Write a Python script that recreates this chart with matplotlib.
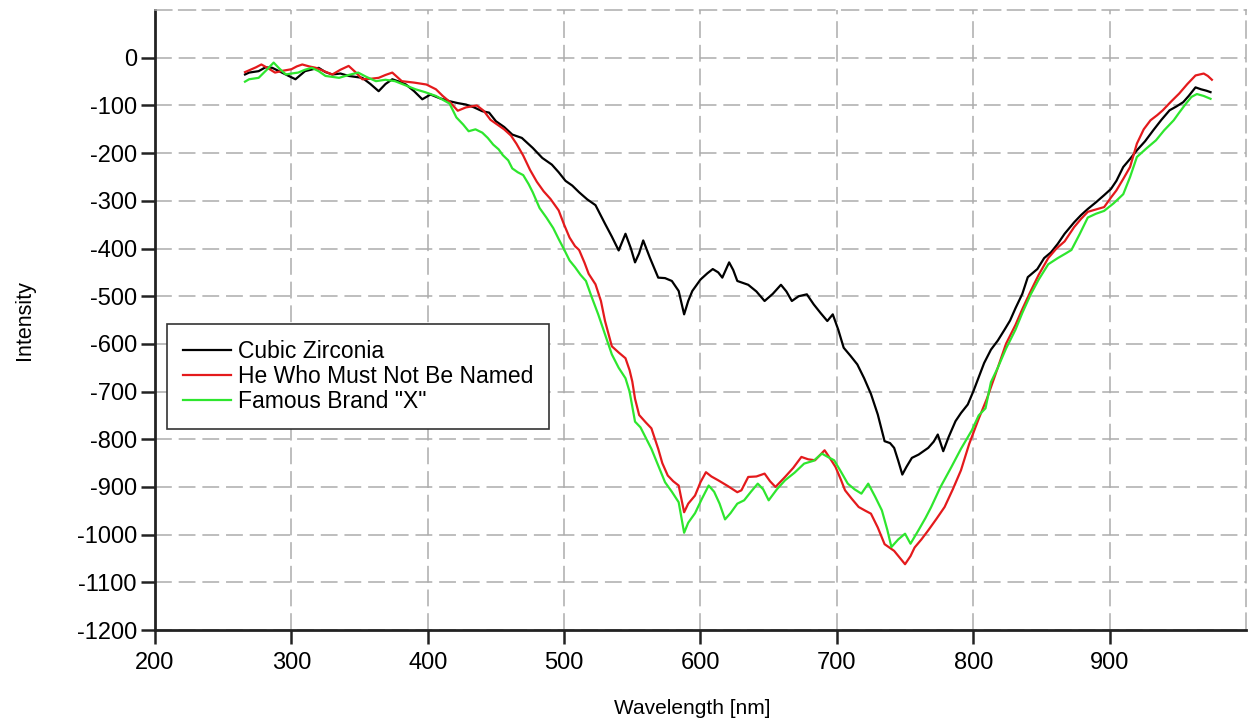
import matplotlib
matplotlib.use("Agg")
import matplotlib.pyplot as plt

plt.rcParams['font.family'] = ['Liberation Sans', 'DejaVu Sans']
plt.rcParams['axes.unicode_minus'] = False

# Cubic Zirconia
cz_wl = [266, 269, 276, 281, 286, 293, 298, 303, 310, 320, 325, 330, 336, 342, 347, 352,
         358, 364, 369, 374, 379, 384, 390, 396, 402, 409, 416, 422, 428, 434, 440, 445,
         450, 456, 462, 469, 477, 484, 491, 496, 501, 506, 511, 517, 523, 530, 535, 540,
         545, 549, 552, 555, 558, 563, 569, 574, 579, 584, 588, 591, 594, 600, 605, 609,
         613, 616, 621, 624, 627, 631, 635, 641, 647, 653, 659, 663, 667, 672, 678, 683,
         688, 693, 697, 701, 705, 710, 715, 720, 725, 730, 735, 739, 742, 745, 748, 751,
         755, 760, 767, 771, 774, 778, 782, 787, 791, 796, 800, 804, 808, 813, 818, 823,
         827, 831, 836, 840, 847, 852, 857, 862, 867, 874, 879, 884, 890, 896, 901, 905,
         910, 915, 920, 926, 932, 938, 944, 949, 954, 958, 963, 967, 971, 974]
cz_int = [-35, -31, -28, -20, -21, -31, -38, -45, -28, -21, -30, -35, -33, -38, -40, -42,
          -55, -70, -55, -45, -50, -56, -70, -87, -77, -85, -91, -95, -98, -104, -112, -115,
          -133, -145, -161, -168, -189, -210, -224, -240, -258, -268, -282, -297, -309, -348, -375, -404,
          -369, -400, -429, -410, -383, -420, -461, -462, -468, -489, -538, -510, -489, -465, -452, -443,
          -450, -461, -429, -445, -468, -472, -476, -490, -510, -495, -476, -490, -510, -500, -496, -517,
          -535, -552, -538, -570, -608, -625, -643, -672, -705, -748, -804, -808, -818, -845, -874, -858,
          -839, -832, -818, -805, -790, -825, -795, -762, -745, -727, -700, -670, -640, -612, -593, -570,
          -551, -525, -495, -460, -443, -420, -408, -390, -369, -345, -330, -317, -303, -288, -275, -258,
          -229, -212, -194, -175, -152, -130, -110, -102, -93, -80, -62, -66, -69, -72]

# He Who Must Not Be Named
hw_wl = [266, 270, 274, 278, 283, 288, 294, 300, 304, 308, 313, 318, 324, 330, 336, 342,
         347, 352, 358, 364, 369, 374, 381, 390, 399, 406, 411, 416, 422, 428, 436, 441,
         446, 451, 456, 461, 465, 470, 475, 480, 485, 490, 496, 500, 504, 508, 511, 515,
         518, 523, 527, 530, 535, 540, 545, 548, 550, 552, 555, 560, 564, 569, 572, 576,
         580, 584, 588, 591, 596, 600, 604, 608, 613, 620, 627, 630, 635, 641, 647, 651,
         655, 662, 668, 674, 679, 684, 691, 695, 699, 703, 706, 711, 716, 721, 725, 730,
         735, 742, 746, 750, 754, 757, 762, 767, 773, 779, 785, 791, 797, 804, 810, 818,
         824, 831, 836, 842, 848, 855, 861, 867, 874, 879, 884, 890, 896, 901, 905, 910,
         915, 920, 925, 930, 935, 939, 945, 951, 957, 963, 969, 972, 975]
hw_int = [-30, -25, -20, -14, -22, -31, -27, -24, -18, -14, -18, -21, -28, -35, -25, -17,
          -30, -45, -44, -42, -36, -31, -49, -52, -56, -66, -80, -92, -111, -104, -100, -111,
          -130, -140, -150, -163, -180, -205, -235, -260, -280, -296, -320, -350, -377, -395, -403, -430,
          -453, -475, -510, -552, -605, -618, -630, -655, -679, -715, -749, -765, -777, -820, -850, -876,
          -888, -897, -953, -935, -918, -890, -869, -878, -886, -898, -911, -907, -879, -878, -872, -888,
          -900, -879, -860, -837, -842, -844, -823, -840, -858, -885, -907, -925, -942, -950, -956, -985,
          -1020, -1034, -1048, -1062, -1045, -1027, -1010, -991, -967, -942, -905, -865, -810, -757, -715, -650,
          -600, -560, -527, -490, -455, -420, -400, -385, -355, -338, -323, -318, -313, -293, -278, -254,
          -229, -180, -150, -131, -120, -110, -92, -75, -55, -37, -33, -38, -46]

# Famous Brand "X"
fx_wl = [266, 269, 276, 282, 287, 291, 296, 300, 305, 310, 315, 320, 325, 330, 335, 342,
         349, 355, 362, 369, 376, 384, 391, 398, 406, 411, 416, 421, 426, 430, 435, 440,
         444, 448, 452, 455, 459, 462, 466, 470, 474, 477, 482, 487, 492, 496, 500, 504, 508, 512,
         516, 520, 525, 530, 535, 540, 545, 548, 552, 556, 559, 564, 569, 574, 579, 584,
         588, 591, 596, 601, 606, 610, 614, 618, 622, 627, 632, 637, 642, 646, 650, 656,
         662, 669, 676, 683, 689, 694, 698, 703, 708, 713, 718, 723, 728, 733, 737, 740,
         745, 750, 754, 760, 765, 769, 776, 784, 791, 799, 804, 809, 813, 818, 824, 831,
         836, 842, 848, 855, 862, 868, 872, 878, 884, 890, 896, 903, 910, 915, 920, 927,
         934, 940, 947, 951, 956, 960, 964, 969, 974]
fx_int = [-50, -45, -42, -25, -10, -22, -35, -33, -31, -25, -21, -28, -38, -40, -42, -36,
          -31, -40, -49, -46, -49, -58, -66, -72, -80, -88, -96, -125, -140, -154, -150, -157,
          -168, -182, -192, -204, -215, -232, -240, -246, -265, -282, -315, -335, -357, -380, -402, -425, -439, -455,
          -468, -500, -538, -580, -622, -650, -672, -700, -763, -775, -792, -820, -855, -890, -910, -932,
          -996, -975, -955, -925, -897, -910, -935, -968, -955, -935, -928, -910, -893, -905, -928, -905,
          -886, -870, -851, -845, -830, -838, -844, -868, -893, -905, -914, -893, -920, -949, -990, -1026,
          -1010, -998, -1019, -990, -965, -943, -900, -858, -820, -781, -750, -735, -680, -650, -610, -570,
          -535, -497, -465, -433, -420, -410, -403, -370, -335, -327, -321, -305, -286, -250, -208, -190,
          -173, -152, -131, -115, -96, -82, -76, -80, -86]

labels = ['Cubic Zirconia', 'He Who Must Not Be Named', 'Famous Brand "X"']
colors = ['black', '#e41a1c', '#2ee62e']

fig = plt.figure(figsize=(12.53, 7.23), dpi=100)
ax = fig.add_axes([0.1237, 0.1286, 0.8707, 0.8574])

ax.plot(cz_wl, cz_int, color=colors[0], lw=1.6, label=labels[0])
ax.plot(hw_wl, hw_int, color=colors[1], lw=1.6, label=labels[1])
ax.plot(fx_wl, fx_int, color=colors[2], lw=1.6, label=labels[2])

ax.set_xlim(200, 1000)
ax.set_ylim(-1200, 100)
ax.set_xticks(range(200, 1000, 100))
ax.set_yticks(range(-1200, 100, 100))

dash = (0, (11, 4.5))
ax.grid(True, color='#acacac', linestyle=dash, linewidth=1.1)
ax.set_axisbelow(True)

for s in ['left', 'bottom']:
    ax.spines[s].set_linewidth(2)
    ax.spines[s].set_color('#222222')
for s in ['top', 'right']:
    ax.spines[s].set_linestyle(dash)
    ax.spines[s].set_color('#acacac')
    ax.spines[s].set_linewidth(1.1)

ax.tick_params(axis='both', direction='out', length=10, width=1.8, color='#222222',
               labelsize=17, top=False, right=False)
ax.tick_params(axis='x', pad=6)
ax.tick_params(axis='y', pad=3)

ax.set_xlabel('Wavelength [nm]', fontsize=15)
ax.xaxis.set_label_coords(0.492, -0.111)
ax.set_ylabel('Intensity', fontsize=15.5, labelpad=30)

leg = ax.legend(loc='upper left', bbox_to_anchor=(0.011, 0.494), fontsize=16.5,
                frameon=True, fancybox=False, edgecolor='#333333', framealpha=1,
                handlelength=2.1, handletextpad=0.3, labelspacing=0.1, borderpad=0.7,
                borderaxespad=0)
leg.get_frame().set_linewidth(1.2)

fig.savefig('out.png', dpi=100)
